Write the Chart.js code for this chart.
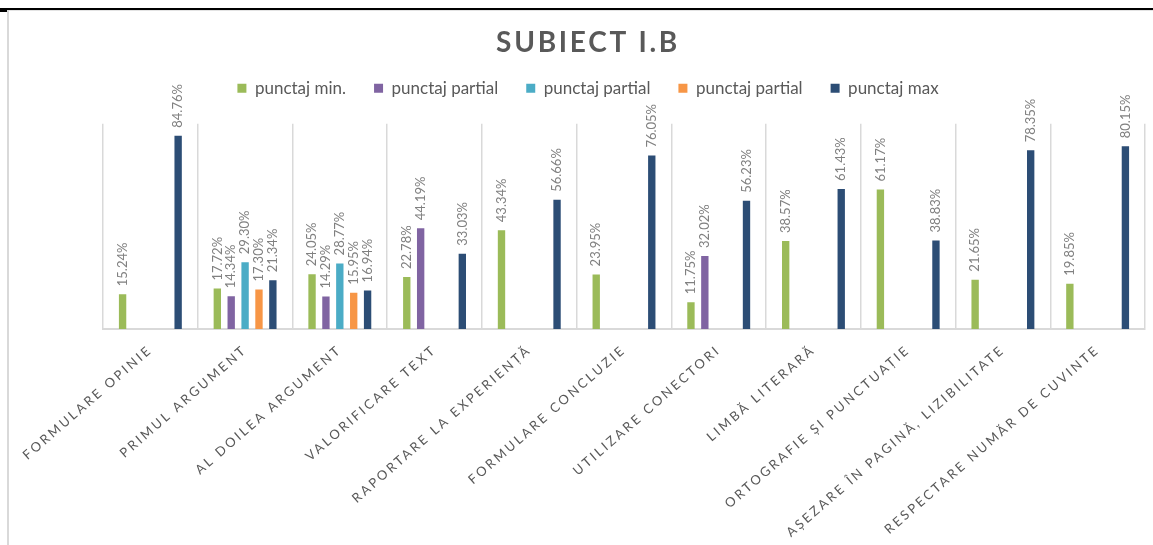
<!DOCTYPE html>
<html>
<head>
<meta charset="utf-8">
<script src="https://cdn.jsdelivr.net/npm/chart.js@4/dist/chart.umd.min.js"></script>
<style>
  html, body { margin: 0; padding: 0; background: #fff; }
  #wrap { position: relative; width: 1153px; height: 545px; overflow: hidden; }
  #chart { position: absolute; left: 0; top: 0; }
  .topline { position: absolute; left: 0; right: 0; top: 8px; height: 2px; background: #000; }
  .topstub { position: absolute; left: 0; width: 7px; top: 10px; height: 2px; background: #000; }
  .frame-top { position: absolute; left: 7px; right: 0; top: 10px; height: 1px; background: #e3e3e3; }
  .frame-left { position: absolute; left: 7px; top: 10px; bottom: 0; width: 2px; background: #d9d9d9; }
</style>
</head>
<body>
<div id="wrap">
  <canvas id="chart" width="1153" height="545"></canvas>
  <div class="topline"></div>
  <div class="topstub"></div>
  <div class="frame-top"></div>
  <div class="frame-left"></div>
</div>
<script>
const categories = [
  "FORMULARE OPINIE",
  "PRIMUL ARGUMENT",
  "AL DOILEA ARGUMENT",
  "VALORIFICARE TEXT",
  "RAPORTARE LA EXPERIENȚĂ",
  "FORMULARE CONCLUZIE",
  "UTILIZARE CONECTORI",
  "LIMBĂ LITERARĂ",
  "ORTOGRAFIE ȘI PUNCTUAȚIE",
  "AȘEZARE ÎN PAGINĂ, LIZIBILITATE",
  "RESPECTARE NUMĂR DE CUVINTE"
];

const punctajMin = [15.24, 17.72, 24.05, 22.78, 43.34, 23.95, 11.75, 38.57, 61.17, 21.65, 19.85];
const partial1   = [null, 14.34, 14.29, 44.19, null, null, 32.02, null, null, null, null];
const partial2   = [null, 29.30, 28.77, null, null, null, null, null, null, null, null];
const partial3   = [null, 17.30, 15.95, null, null, null, null, null, null, null, null];
const punctajMax = [84.76, 21.34, 16.94, 33.03, 56.66, 76.05, 56.23, 61.43, 38.83, 78.35, 80.15];

const seriesNames = ["punctaj min.", "punctaj partial", "punctaj partial", "punctaj partial", "punctaj max"];
const seriesColors = ["#9bbb59", "#8064a2", "#4bacc6", "#f79646", "#2c4d75"];
const seriesValues = [punctajMin, partial1, partial2, partial3, punctajMax];

const FONT = "Lato, 'Open Sans', sans-serif";

// value labels, vertical, above each bar; then letter spacing for the x labels (drawn after, z:1)
const barLabels = {
  id: "barLabels",
  afterInit(chart) {
    const t = chart.titleBlock;
    const draw = t.draw;
    t.draw = function () {
      chart.ctx.save();
      chart.ctx.letterSpacing = "2.7px";
      draw.apply(this, arguments);
      chart.ctx.restore();
    };
  },
  afterDatasetsDraw(chart) {
    const ctx = chart.ctx;
    ctx.save();
    ctx.font = "13px " + FONT;
    ctx.fillStyle = "#808080";
    ctx.textAlign = "left";
    ctx.textBaseline = "middle";
    chart.data.datasets.forEach((ds, i) => {
      chart.getDatasetMeta(i).data.forEach((bar, j) => {
        const v = ds.data[j];
        if (v == null) return;
        ctx.save();
        ctx.translate(bar.x, bar.y - 8);
        ctx.rotate(-Math.PI / 2);
        ctx.fillText(v.toFixed(2) + "%", 0, 0);
        ctx.restore();
      });
    });
    ctx.restore();
    ctx.letterSpacing = "2.6px";
  },
  afterDraw(chart) {
    chart.ctx.letterSpacing = "0px";
  }
};

new Chart(document.getElementById("chart"), {
  type: "bar",
  data: {
    labels: categories,
    datasets: seriesValues.map((vals, i) => ({
      label: seriesNames[i],
      data: vals,
      backgroundColor: seriesColors[i],
      borderWidth: 0,
      categoryPercentage: 0.733,
      barPercentage: 0.53
    }))
  },
  options: {
    responsive: false,
    animation: false,
    events: [],
    layout: { padding: { left: 31, right: 8, top: 0, bottom: 0 } },
    plugins: {
      title: {
        display: true,
        text: "SUBIECT I.B",
        color: "#595959",
        font: { family: FONT, size: 28, weight: "bold", lineHeight: 0.6 },
        padding: { top: 35, bottom: 0 }
      },
      legend: {
        position: "top",
        labels: {
          color: "#595959",
          font: { family: FONT, size: 17 },
          boxWidth: 9,
          boxHeight: 9,
          padding: 28
        }
      },
      // empty spacer between legend and plot
      subtitle: {
        display: true,
        text: "",
        weight: 500,
        font: { size: 10, lineHeight: 1 },
        padding: { top: 0, bottom: 7 }
      },
      tooltip: { enabled: false }
    },
    scales: {
      x: {
        grid: { color: "#d9d9d9", lineWidth: 1.5, drawTicks: false, offset: true },
        border: { color: "#d9d9d9", width: 2 },
        ticks: {
          z: 1,
          color: "#595959",
          font: { family: FONT, size: 13 },
          maxRotation: 41,
          minRotation: 41,
          autoSkip: false,
          padding: 13
        },
        afterFit(scale) { scale.height = 216; }
      },
      y: {
        display: true,
        min: 0,
        max: 90,
        grid: { display: false },
        border: { display: false },
        ticks: { display: false },
        afterFit(scale) { scale.width = 72; }
      }
    }
  },
  plugins: [barLabels]
});
</script>
</body>
</html>
